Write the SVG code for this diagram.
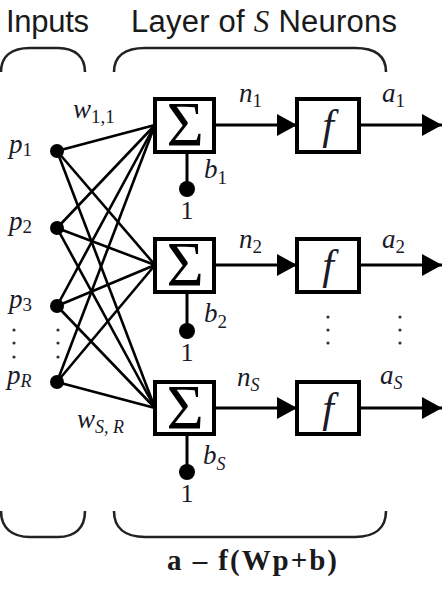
<svg xmlns="http://www.w3.org/2000/svg" width="445" height="591" viewBox="0 0 445 591">
<defs>
<style>
.t{font-family:"Liberation Sans",Arial,sans-serif;fill:#1a1a1a;font-size:31px}
.m{font-family:"Liberation Serif","Times New Roman",serif;font-style:italic;fill:#1a1a2a;font-size:27px}
.s{font-family:"Liberation Serif","Times New Roman",serif;font-style:normal;font-size:19px}
.si{font-family:"Liberation Serif","Times New Roman",serif;font-style:italic;font-size:18px}
.one{font-family:"Liberation Serif","Times New Roman",serif;fill:#1a1a2a;font-size:26px;text-anchor:middle}
.box{fill:#fff;stroke:#000;stroke-width:4}
.sig{font-family:"Liberation Serif","Times New Roman",serif;font-size:64px;text-anchor:middle;fill:#000}
.fx{font-family:"Liberation Serif","Times New Roman",serif;font-style:italic;font-size:42px;text-anchor:middle;fill:#1a1a2a}
.w{stroke:#000;stroke-width:2.6;fill:none}
.br{stroke:#222;stroke-width:2.6;fill:none}
.ln{stroke:#000;stroke-width:3;fill:none}
</style>
<marker id="ah" viewBox="0 0 20 22" refX="20" refY="11" markerWidth="20" markerHeight="22" markerUnits="userSpaceOnUse" orient="auto">
<path d="M0,0 L20,11 L0,22 Z" fill="#000"/>
</marker>
</defs>

<g id="titles">
<text class="t" x="6" y="32" textLength="83">Inputs</text>
<text class="t" x="131" y="32" textLength="266">Layer of <tspan font-family="Liberation Serif,serif" font-style="italic">S</tspan> Neurons</text>
</g>

<g id="braces">
<path class="br" d="M1,72 C1,56 12,48 30,48 L58,48 C75,48 85,57 85,72"/>
<path class="br" d="M114,72 C114,56 125,48 145,48 L355,48 C375,48 386,56 386,72"/>
<path class="br" d="M1,511 C1,528 12,537 30,537 L58,537 C75,537 85,528 85,511"/>
<path class="br" d="M114,511 C114,528 125,537 145,537 L355,537 C375,537 386,528 386,511"/>
</g>

<g id="connectors">
<g class="w">
<line x1="57" y1="151" x2="155" y2="125"/><line x1="57" y1="151" x2="155" y2="265"/><line x1="57" y1="151" x2="155" y2="408"/>
<line x1="57" y1="228" x2="155" y2="125"/><line x1="57" y1="228" x2="155" y2="265"/><line x1="57" y1="228" x2="155" y2="408"/>
<line x1="57" y1="306" x2="155" y2="125"/><line x1="57" y1="306" x2="155" y2="265"/><line x1="57" y1="306" x2="155" y2="408"/>
<line x1="57" y1="382" x2="155" y2="125"/><line x1="57" y1="382" x2="155" y2="265"/><line x1="57" y1="382" x2="155" y2="408"/>
</g>
<g class="ln">
<line x1="214" y1="125" x2="297" y2="125" marker-end="url(#ah)"/>
<line x1="359" y1="125" x2="442" y2="125" marker-end="url(#ah)"/>
<line x1="214" y1="265" x2="297" y2="265" marker-end="url(#ah)"/>
<line x1="359" y1="265" x2="442" y2="265" marker-end="url(#ah)"/>
<line x1="214" y1="408" x2="297" y2="408" marker-end="url(#ah)"/>
<line x1="359" y1="408" x2="442" y2="408" marker-end="url(#ah)"/>
<line x1="187" y1="152" x2="187" y2="189"/>
<line x1="187" y1="292" x2="187" y2="331"/>
<line x1="187" y1="434" x2="187" y2="472"/>
</g>
</g>

<g id="inputs">
<circle cx="57" cy="151" r="7"/><circle cx="57" cy="228" r="7"/><circle cx="57" cy="306" r="7"/><circle cx="57" cy="382" r="7"/>
<text class="m" x="9" y="153">p<tspan class="s" dy="3">1</tspan></text>
<text class="m" x="9" y="230">p<tspan class="s" dy="3">2</tspan></text>
<text class="m" x="9" y="308">p<tspan class="s" dy="3">3</tspan></text>
<text class="m" x="7" y="384">p<tspan class="si" dy="3">R</tspan></text>
<g fill="#333">
<circle cx="14" cy="330" r="1.6"/><circle cx="14" cy="343" r="1.6"/><circle cx="14" cy="357" r="1.6"/>
<circle cx="58" cy="330" r="1.6"/><circle cx="58" cy="343" r="1.6"/><circle cx="58" cy="357" r="1.6"/>
</g>
<text class="m" x="73" y="118">w<tspan class="s" dy="5">1,1</tspan></text>
<text class="m" x="77" y="428">w<tspan class="si" dy="5">S, R</tspan></text>
</g>

<g id="sum1">
<rect class="box" x="155" y="99" width="59" height="53"/>
<text class="sig" x="185" y="146">Σ</text>
<circle cx="187" cy="189" r="8"/>
<text class="m" x="204" y="178">b<tspan class="s" dy="6">1</tspan></text>
<text class="one" x="187" y="219">1</text>
</g>
<g id="sum2">
<rect class="box" x="155" y="239" width="59" height="53"/>
<text class="sig" x="185" y="286">Σ</text>
<circle cx="187" cy="331" r="8"/>
<text class="m" x="204" y="322">b<tspan class="s" dy="6">2</tspan></text>
<text class="one" x="187" y="361">1</text>
</g>
<g id="sumS">
<rect class="box" x="155" y="382" width="59" height="52"/>
<text class="sig" x="185" y="429">Σ</text>
<circle cx="187" cy="472" r="8"/>
<text class="m" x="203" y="464">b<tspan class="si" dy="6">S</tspan></text>
<text class="one" x="187" y="502">1</text>
</g>

<g id="f1">
<rect class="box" x="297" y="99" width="62" height="53"/>
<text class="fx" x="328" y="139">f</text>
</g>
<g id="f2">
<rect class="box" x="297" y="239" width="62" height="53"/>
<text class="fx" x="328" y="279">f</text>
</g>
<g id="fS">
<rect class="box" x="297" y="382" width="62" height="52"/>
<text class="fx" x="328" y="422">f</text>
</g>

<g id="labels">
<text class="m" x="239" y="102">n<tspan class="s" dy="5">1</tspan></text>
<text class="m" x="382" y="102">a<tspan class="s" dy="5">1</tspan></text>
<text class="m" x="239" y="248">n<tspan class="s" dy="5">2</tspan></text>
<text class="m" x="382" y="248">a<tspan class="s" dy="5">2</tspan></text>
<text class="m" x="237" y="386">n<tspan class="si" dy="5">S</tspan></text>
<text class="m" x="380" y="384">a<tspan class="si" dy="5">S</tspan></text>
<g fill="#333">
<circle cx="328" cy="317" r="1.6"/><circle cx="328" cy="330" r="1.6"/><circle cx="328" cy="343" r="1.6"/>
<circle cx="400" cy="317" r="1.6"/><circle cx="400" cy="330" r="1.6"/><circle cx="400" cy="343" r="1.6"/>
</g>
</g>

<g id="formula">
<text x="167" y="570" textLength="170" font-family="Liberation Serif,'Times New Roman',serif" font-weight="bold" font-size="29" fill="#1a1a1a">a – f(Wp+b)</text>
</g>
</svg>
